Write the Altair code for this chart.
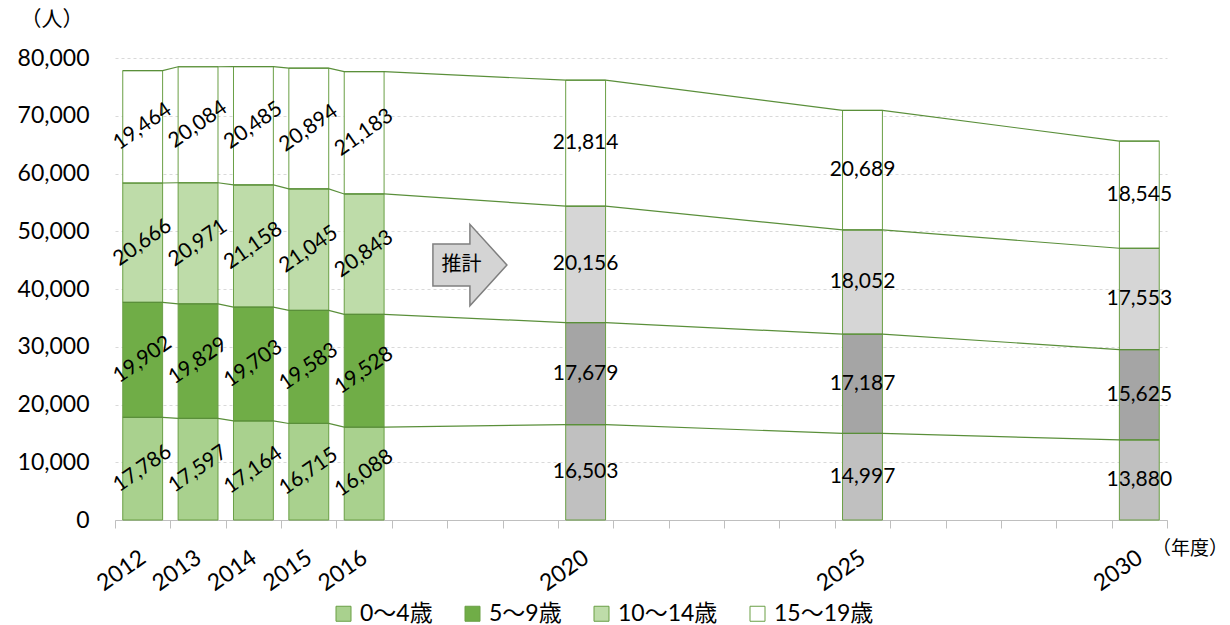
import altair as alt
import pandas as pd

# ---------------- data ----------------
years = [2012, 2013, 2014, 2015, 2016, 2020, 2025, 2030]
projected = [False, False, False, False, False, True, True, True]
groups = ["0〜4歳", "5〜9歳", "10〜14歳", "15〜19歳"]
age0_4 = [17786, 17597, 17164, 16715, 16088, 16503, 14997, 13880]
age5_9 = [19902, 19829, 19703, 19583, 19528, 17679, 17187, 15625]
age10_14 = [20666, 20971, 21158, 21045, 20843, 20156, 18052, 17553]
age15_19 = [19464, 20084, 20485, 20894, 21183, 21814, 20689, 18545]
series = [age0_4, age5_9, age10_14, age15_19]

hist_colors = ["#A9D18E", "#70AD47", "#BEDCA9", "#FFFFFF"]
proj_colors = ["#C0C0C0", "#A5A5A5", "#D6D6D6", "#FFFFFF"]
proj_suffix = "（推計）"

y_ticks = [0, 10000, 20000, 30000, 40000, 50000, 60000, 70000, 80000]
x_boundaries = [y - 0.5 for y in range(2012, 2032)]
half_bar = 0.36

unit_label = "（人）"
year_unit_label = "（年度）"
arrow_label = "推計"
arrow_pos = [2017.91, 44150]
arrow_text_pos = [2017.76, 44150]

# ---------------- tables ----------------
rows = []
line_rows = []
for i, yr in enumerate(years):
    lower = 0
    for g, (name, vals) in enumerate(zip(groups, series)):
        v = vals[i]
        upper = lower + v
        rows.append({
            "year": yr, "group": name,
            "key": name + (proj_suffix if projected[i] else ""),
            "value": v, "lower": lower, "upper": upper,
            "mid": (lower + upper) / 2, "proj": projected[i],
        })
        line_rows.append({"level": g, "year": yr, "side": -1, "cum": upper})
        line_rows.append({"level": g, "year": yr, "side": 1, "cum": upper})
        lower = upper
df = pd.DataFrame(rows)
lines_df = pd.DataFrame(line_rows)

keys = groups + [g + proj_suffix for g in groups]
colors = hist_colors + proj_colors

NUM_FONT = "Lato"
JP_FONT = "Lato, Noto Sans CJK JP"
GREEN_EDGE = "#6A9F45"
LINE_GREEN = "#5A8F3A"

xscale = alt.Scale(domain=[2011.5, 2030.5], nice=False, zero=False)
yscale = alt.Scale(domain=[0, 80000], nice=False)

year_list = ",".join(str(y) for y in years)
x_axis = alt.Axis(
    values=x_boundaries, title=None, grid=False,
    labelExpr=f"indexof([{year_list}], datum.value + 0.5) >= 0 ? toString(datum.value + 0.5) : ''",
    labelOffset=28, labelAngle=325, labelAlign="right", labelBaseline="middle",
    labelPadding=27, labelOverlap=False, labelFlush=False, labelBound=False,
    labelFont=NUM_FONT, labelFontSize=23, labelColor="#000000",
    tickSize=8, tickColor="#BFBFBF", domainColor="#BFBFBF", domainWidth=1,
)
y_axis = alt.Axis(
    values=y_ticks, labelExpr="format(datum.value, ',')", title=None,
    domain=False, ticks=False, tickSize=0,
    labelPadding=26, labelFont=NUM_FONT, labelFontSize=23, labelColor="#000000",
    gridColor="#D9D9D9", gridDash=[3, 3], gridWidth=1,
)


def X(field):
    return alt.X(field, scale=xscale, axis=x_axis)


def Y(field):
    return alt.Y(field, scale=yscale, axis=y_axis)


bars = alt.Chart(df).transform_calculate(
    x1=f"datum.year - {half_bar}", x2=f"datum.year + {half_bar}"
).mark_bar(stroke=GREEN_EDGE, strokeWidth=1).encode(
    x=X("x1:Q"),
    x2="x2:Q",
    y=Y("lower:Q"),
    y2="upper:Q",
    fill=alt.Fill(
        "key:N",
        scale=alt.Scale(domain=keys, range=colors),
        legend=alt.Legend(
            values=groups, title=None, orient="none", legendX=217, legendY=544,
            direction="horizontal", columns=4, symbolType="square", symbolSize=225,
            symbolStrokeColor=GREEN_EDGE, symbolStrokeWidth=1, labelFont=JP_FONT,
            labelFontSize=23, labelColor="#000000", columnPadding=28, labelOffset=5,
            padding=0,
        ),
    ),
)

connectors = alt.Chart(lines_df).transform_calculate(
    xp=f"datum.year + datum.side * {half_bar}"
).mark_line(color=LINE_GREEN, strokeWidth=1.2).encode(
    x=X("xp:Q"),
    y=Y("cum:Q"),
    detail="level:N",
    order="xp:Q",
)

hist_text = alt.Chart(df).transform_filter("!datum.proj").mark_text(
    angle=325, font=NUM_FONT, fontSize=21, color="#000000"
).encode(
    x=X("year:Q"),
    y=Y("mid:Q"),
    text=alt.Text("value:Q", format=","),
)

proj_text = alt.Chart(df).transform_filter("datum.proj").mark_text(
    font=NUM_FONT, fontSize=21, color="#000000"
).encode(
    x=X("year:Q"),
    y=Y("mid:Q"),
    text=alt.Text("value:Q", format=","),
)

arrow_df = pd.DataFrame({"x": [arrow_pos[0]], "y": [arrow_pos[1]],
                         "tx": [arrow_text_pos[0]], "ty": [arrow_text_pos[1]],
                         "label": [arrow_label]})
arrow_path = "M-1,-0.57 L0,-0.57 L0,-1.1 L1,0 L0,1.1 L0,0.57 L-1,0.57 Z"
arrow = alt.Chart(arrow_df).mark_point(
    shape=arrow_path, size=5476, filled=True, fill="#D4D4D4", stroke="#7F7F7F",
    strokeWidth=1.5, opacity=1,
).encode(
    x=X("x:Q"),
    y=Y("y:Q"),
)
arrow_text = alt.Chart(arrow_df).mark_text(
    font="Noto Sans CJK JP", fontSize=20, color="#000000"
).encode(
    x=X("tx:Q"),
    y=Y("ty:Q"),
    text="label:N",
)

units_df = pd.DataFrame({"label": [unit_label]})
unit_text = alt.Chart(units_df).mark_text(
    font="Noto Sans CJK JP", fontSize=21, color="#000000"
).encode(x=alt.value(-63), y=alt.value(-38), text="label:N")

year_units_df = pd.DataFrame({"label": [year_unit_label]})
year_unit_text = alt.Chart(year_units_df).mark_text(
    font="Noto Sans CJK JP", fontSize=19, color="#000000", align="left"
).encode(x=alt.value(1037), y=alt.value(491), text="label:N")

chart = alt.layer(
    bars, connectors, hist_text, proj_text, arrow, arrow_text, unit_text, year_unit_text
).properties(
    width=1052, height=462,
    autosize=alt.AutoSizeParams(type="none"),
    padding={"left": 115, "top": 58, "right": 63, "bottom": 105},
    background="#FFFFFF",
).configure_view(stroke=None)

chart.save("out.html", embed_options={"renderer": "svg", "actions": False})
